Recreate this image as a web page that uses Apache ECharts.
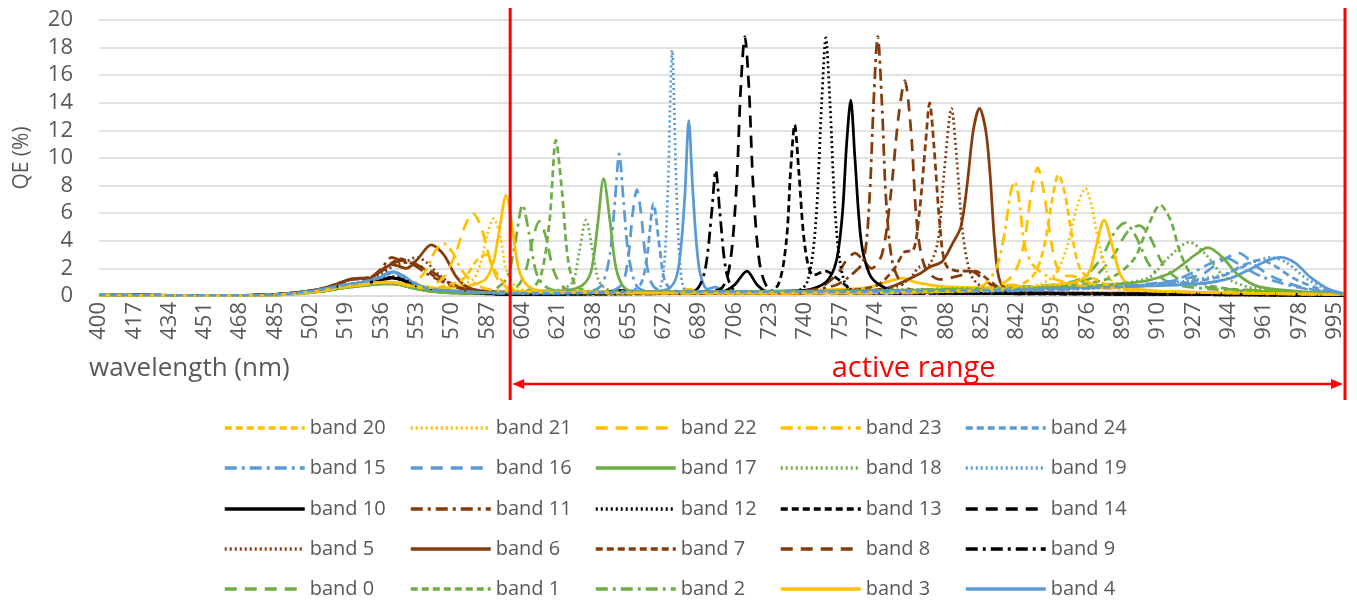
<!DOCTYPE html>
<html>
<head>
<meta charset="utf-8">
<script src="https://cdn.jsdelivr.net/npm/echarts@6/dist/echarts.min.js"></script>
</head>
<body style="margin:0;background:#fff">
<div id="main" style="width:1357px;height:601px;"></div>
<script>
// QE curves as [wavelength (nm), QE (%)]
var band0 = [[400,0.08],[420,0.05],[470,0.03],[485,0.08],[498,0.2],[508,0.35],[518,0.6],[528,0.78],[538,0.9],[544,0.85],[552,0.55],[562,0.3],[575,0.22],[590,0.25],[600,0.5],[605,1.6],[609,4.2],[612,5.4],[615,4.4],[619,1.8],[624,0.6],[632,0.3],[660,0.25],[700,0.3],[760,0.4],[820,0.5],[860,0.8],[878,1.3],[888,2.8],[895,4.6],[901,5.1],[906,4.3],[912,2.4],[920,1.2],[935,0.6],[960,0.4],[985,0.2],[1000,0.1]];
var band1 = [[400,0.07],[420,0.05],[470,0.03],[485,0.07],[498,0.18],[508,0.33],[518,0.58],[528,0.75],[538,0.88],[544,0.84],[552,0.55],[562,0.3],[575,0.2],[595,0.25],[608,0.5],[613,1.6],[617,5.5],[620,11.3],[623,7.5],[626,2.5],[630,0.7],[640,0.3],[700,0.3],[780,0.4],[850,0.6],[885,1.2],[898,2.6],[905,5],[911,6.6],[916,5.5],[921,3],[928,1.2],[940,0.6],[970,0.3],[1000,0.1]];
var band2 = [[400,0.08],[420,0.05],[470,0.03],[485,0.08],[498,0.2],[508,0.36],[518,0.6],[528,0.8],[538,0.92],[544,0.86],[552,0.56],[562,0.32],[575,0.25],[588,0.35],[596,1.2],[600,3.5],[604,6.6],[607,4.6],[611,1.5],[617,0.5],[630,0.3],[700,0.3],[780,0.4],[850,0.7],[872,1.2],[882,2.6],[889,4.6],[894,5.3],[899,4.4],[906,2.2],[915,1],[935,0.5],[970,0.3],[1000,0.1]];
var band3 = [[400,0.08],[420,0.05],[470,0.03],[485,0.08],[498,0.22],[508,0.4],[518,0.65],[528,0.85],[538,1.0],[544,0.95],[552,0.65],[562,0.55],[572,0.65],[580,0.8],[586,1.2],[590,2.5],[593,5],[596,7.3],[599,5],[602,2],[606,0.8],[612,0.4],[650,0.3],[679,0.3],[684,0.5],[690,0.3],[740,0.4],[770,0.6],[781,1.1],[787,1.3],[793,1],[805,0.7],[830,0.6],[840,0.8],[846,0.6],[860,0.8],[872,1.1],[877,1.8],[880,3.5],[884,5.5],[888,3.6],[892,1.5],[898,0.6],[920,0.3],[1000,0.1]];
var band4 = [[400,0.1],[420,0.06],[470,0.04],[485,0.1],[498,0.28],[508,0.5],[518,0.8],[528,1.05],[536,1.4],[541,1.75],[546,1.5],[552,0.9],[560,0.5],[572,0.35],[585,0.25],[598,0.15],[640,0.2],[665,0.3],[675,0.6],[679,2],[682,7],[684,12.7],[686,7.5],[689,2],[693,0.5],[697,0.65],[702,0.3],[750,0.3],[800,0.3],[860,0.6],[900,0.7],[930,0.9],[945,1.3],[955,2],[963,2.6],[969,2.8],[976,2.4],[983,1.4],[992,0.5],[1000,0.15]];
var band5 = [[400,0.1],[420,0.06],[470,0.05],[485,0.12],[498,0.3],[508,0.55],[516,0.9],[522,1.2],[530,1.25],[536,1.6],[542,2.2],[548,2.5],[553,2.8],[558,2.4],[564,1.5],[572,0.7],[585,0.35],[620,0.2],[700,0.2],[760,0.3],[780,0.5],[790,1.2],[795,2.1],[800,2.3],[804,4],[807,9],[810.5,13.6],[813,10],[816,4.5],[820,1.5],[826,0.6],[840,0.3],[900,0.2],[1000,0.05]];
var band6 = [[400,0.1],[420,0.06],[470,0.05],[485,0.12],[498,0.3],[508,0.55],[516,0.95],[522,1.25],[530,1.3],[536,1.8],[541,2.3],[548,2.0],[553,2.6],[560,3.7],[566,3.0],[572,1.4],[578,0.6],[590,0.3],[650,0.2],[720,0.2],[760,0.3],[780,0.6],[795,1.6],[800,2.1],[806,2.5],[811,3.8],[815,5],[818,8],[821,12],[824,13.6],[827,12],[829,9],[831.5,3.5],[834,1],[840,0.3],[900,0.2],[1000,0.05]];
var band7 = [[400,0.1],[420,0.06],[470,0.05],[485,0.12],[498,0.3],[508,0.55],[516,0.95],[522,1.2],[530,1.3],[536,1.9],[541,2.4],[545,2.7],[550,2.4],[556,2],[564,1.2],[574,0.6],[590,0.3],[650,0.2],[740,0.3],[760,0.4],[775,0.8],[783,2],[788,3.2],[792,3.3],[795,6],[798,11],[800,14],[802,11],[805,5],[808,2.2],[815,1.8],[822,1.8],[828,1.2],[835,0.5],[860,0.2],[1000,0.05]];
var band8 = [[400,0.1],[420,0.06],[470,0.05],[485,0.12],[498,0.3],[508,0.55],[516,0.95],[522,1.25],[530,1.35],[536,1.8],[542,2.4],[548,2.6],[554,2.2],[560,1.8],[568,1],[578,0.5],[590,0.3],[650,0.2],[720,0.3],[745,0.5],[755,1.5],[760,2.6],[764,3.1],[768,2.6],[772,2],[777,3],[781,7],[785,13],[788,15.6],[791,12],[794,5],[798,2],[805,1.2],[815,1.5],[820,1.8],[826,1.2],[835,0.4],[860,0.2],[1000,0.05]];
var band9 = [[400,0.1],[420,0.06],[470,0.04],[485,0.1],[498,0.26],[508,0.45],[518,0.75],[528,0.95],[536,1.2],[541,1.35],[546,1.2],[552,0.8],[560,0.45],[572,0.3],[585,0.2],[598,0.12],[650,0.15],[680,0.2],[688,0.5],[692,2],[695,6],[697,9.1],[699,6],[702,1.8],[706,0.4],[715,0.2],[800,0.2],[900,0.15],[1000,0.05]];
var band10 = [[400,0.1],[420,0.06],[470,0.04],[485,0.1],[498,0.25],[508,0.45],[518,0.72],[528,0.92],[536,1.15],[541,1.3],[546,1.15],[552,0.75],[560,0.4],[572,0.25],[585,0.18],[598,0.1],[640,0.2],[652,0.4],[660,0.2],[690,0.2],[700,0.3],[706,0.8],[712,1.8],[717,0.8],[722,0.3],[740,0.4],[750,1],[755,2.5],[758,6],[760,11],[762,14.2],[764,10],[767,4],[771,1.6],[776,0.8],[785,0.3],[850,0.2],[1000,0.05]];
var band11 = [[400,0.1],[420,0.06],[470,0.05],[485,0.12],[498,0.3],[508,0.55],[516,0.95],[522,1.25],[530,1.3],[536,2],[541,2.8],[546,2.5],[552,2.2],[558,1.6],[566,1],[575,0.5],[590,0.3],[650,0.2],[700,0.3],[740,0.4],[755,0.8],[762,1.5],[768,2.5],[771,7],[773,14],[775,18.8],[777,14],[779,7],[782,2.5],[787,0.8],[795,0.3],[850,0.2],[1000,0.05]];
var band12 = [[400,0.1],[420,0.06],[470,0.04],[485,0.1],[498,0.27],[508,0.47],[518,0.76],[528,0.98],[536,1.25],[541,1.4],[546,1.25],[552,0.82],[560,0.45],[572,0.3],[585,0.2],[598,0.12],[700,0.2],[735,0.3],[741,1],[745,5],[748,14],[750,18.7],[752,14],[755,5],[759,1],[765,0.3],[800,0.2],[1000,0.05]];
var band13 = [[400,0.1],[420,0.06],[470,0.04],[485,0.1],[498,0.26],[508,0.46],[518,0.74],[528,0.95],[536,1.2],[541,1.3],[546,1.18],[552,0.78],[560,0.42],[572,0.28],[585,0.2],[598,0.12],[700,0.2],[720,0.2],[727,0.8],[731,4],[733,9],[735,12.4],[737,9],[740,3.5],[744,1.5],[750,1.8],[756,1.2],[765,0.3],[800,0.2],[1000,0.05]];
var band14 = [[400,0.1],[420,0.06],[470,0.04],[485,0.1],[498,0.26],[508,0.45],[518,0.74],[528,0.94],[536,1.18],[541,1.32],[546,1.2],[552,0.8],[560,0.44],[572,0.3],[585,0.2],[598,0.12],[660,0.2],[690,0.3],[700,0.6],[704,2.5],[707,8],[709,15],[711,18.8],[713,15],[715,8],[718,2.5],[722,0.6],[730,0.2],[800,0.2],[1000,0.05]];
var band15 = [[400,0.1],[420,0.06],[470,0.04],[485,0.1],[498,0.28],[508,0.5],[518,0.78],[528,1.02],[536,1.35],[541,1.65],[546,1.45],[552,0.9],[560,0.5],[572,0.35],[585,0.25],[600,0.2],[635,0.3],[642,0.8],[646,3],[648.5,7],[650.5,10.3],[652.5,7],[655,3],[659,0.7],[666,0.3],[750,0.3],[850,0.4],[880,0.6],[915,1],[928,1.8],[937,2.5],[943,2.75],[950,2.2],[960,1.4],[975,0.7],[990,0.3],[1000,0.1]];
var band16 = [[400,0.1],[420,0.06],[470,0.04],[485,0.1],[498,0.27],[508,0.5],[518,0.8],[528,1.03],[536,1.38],[541,1.7],[546,1.48],[552,0.9],[560,0.5],[572,0.35],[585,0.25],[600,0.2],[645,0.3],[652,0.9],[655,3],[657,6],[659,7.7],[661,6],[663.5,2.5],[667,0.7],[675,0.3],[750,0.3],[850,0.5],[900,0.8],[930,1.5],[940,2.5],[949,3.1],[956,2.3],[965,1.4],[980,0.6],[1000,0.15]];
var band17 = [[400,0.08],[420,0.05],[470,0.03],[485,0.08],[498,0.2],[508,0.35],[518,0.58],[528,0.76],[538,0.88],[544,0.84],[552,0.55],[562,0.3],[575,0.2],[600,0.3],[625,0.4],[633,0.8],[637,1.8],[640,5],[643,8.5],[646,5.5],[649,2],[653,0.6],[660,0.3],[700,0.3],[780,0.4],[860,0.6],[900,1],[915,1.6],[922,2.3],[928,3],[934,3.5],[941,2.8],[948,1.6],[958,0.7],[980,0.3],[1000,0.1]];
var band18 = [[400,0.08],[420,0.05],[470,0.03],[485,0.08],[498,0.2],[508,0.35],[518,0.6],[528,0.78],[538,0.9],[544,0.85],[552,0.55],[562,0.3],[575,0.2],[600,0.3],[620,0.4],[628,1],[631,3],[634.5,5.5],[638,3],[641,1],[647,0.4],[700,0.3],[800,0.5],[880,0.8],[905,1.3],[915,2.8],[925,3.9],[933,3],[942,1.4],[955,0.6],[980,0.3],[1000,0.1]];
var band19 = [[400,0.1],[420,0.06],[470,0.04],[485,0.1],[498,0.28],[508,0.5],[518,0.8],[528,1.04],[536,1.4],[541,1.72],[546,1.5],[552,0.9],[560,0.5],[572,0.35],[585,0.25],[600,0.2],[660,0.3],[669,0.4],[672,2],[674,8],[676,17.8],[678,8],[680,2],[683,0.4],[700,0.3],[800,0.3],[900,0.7],[940,1.5],[955,2.4],[964,2.8],[972,2.4],[982,1.2],[993,0.4],[1000,0.15]];
var band20 = [[400,0.08],[420,0.05],[470,0.03],[485,0.08],[498,0.22],[508,0.4],[518,0.65],[528,0.85],[538,1.0],[544,0.95],[552,0.7],[560,0.6],[575,1.2],[582,2.6],[586,3],[590,2],[596,0.8],[605,0.3],[700,0.2],[800,0.3],[840,0.6],[850,1.5],[855,3.5],[859,7],[862,8.8],[865,7.5],[869,4],[873,1.8],[880,1.2],[890,0.6],[920,0.3],[1000,0.1]];
var band21 = [[400,0.08],[420,0.05],[470,0.03],[485,0.08],[498,0.22],[508,0.4],[518,0.65],[528,0.85],[538,1.0],[544,0.95],[552,0.7],[562,0.6],[570,0.7],[580,1.2],[584,2.5],[587,4.5],[590,5.6],[593,4.5],[596,2],[600,0.8],[608,0.3],[700,0.2],[800,0.3],[850,0.7],[860,1.5],[866,3.5],[871,6.5],[875,7.8],[878,6.5],[882,3.5],[887,1.2],[895,0.5],[920,0.3],[1000,0.1]];
var band22 = [[400,0.08],[420,0.05],[470,0.03],[485,0.08],[498,0.22],[508,0.4],[518,0.65],[528,0.85],[538,1.0],[544,0.95],[550,0.7],[555,0.6],[565,1.2],[571,2.8],[576,5],[580,6.0],[584,5],[588,2.8],[592,1.2],[598,0.5],[610,0.3],[700,0.2],[800,0.3],[830,0.6],[840,1.5],[845,3.5],[849,7.5],[852,9.3],[855,7.5],[859,3.5],[863,1.6],[870,1.4],[880,0.8],[900,0.4],[1000,0.1]];
var band23 = [[400,0.08],[420,0.05],[470,0.03],[485,0.08],[498,0.22],[508,0.4],[518,0.65],[528,0.85],[538,1.0],[544,0.95],[548,0.8],[552,0.9],[558,2],[562,3.3],[566,3.8],[570,3.2],[575,1.8],[582,0.8],[592,0.4],[700,0.2],[800,0.3],[825,0.7],[832,2],[836,4.5],[839,7.5],[841,8.3],[843,7],[846,3.5],[850,2.2],[856,1.5],[865,1],[880,0.6],[920,0.3],[1000,0.1]];
var band24 = [[400,0.1],[420,0.06],[470,0.04],[485,0.1],[498,0.28],[508,0.5],[518,0.8],[528,1.05],[536,1.42],[541,1.78],[546,1.52],[552,0.92],[560,0.5],[572,0.35],[585,0.25],[600,0.2],[655,0.3],[661,0.9],[664,3],[667,6.7],[670,3.5],[673,0.9],[680,0.3],[750,0.3],[850,0.5],[910,0.8],[940,1.4],[952,2.3],[959,2.6],[966,2.2],[975,1.3],[988,0.5],[1000,0.15]];

var bandCurves = [band0, band1, band2, band3, band4, band5, band6, band7, band8, band9,
    band10, band11, band12, band13, band14, band15, band16, band17, band18, band19,
    band20, band21, band22, band23, band24];

// legend grid, row by row as in the figure
var legendRows = [
    ['band 20', 'band 21', 'band 22', 'band 23', 'band 24'],
    ['band 15', 'band 16', 'band 17', 'band 18', 'band 19'],
    ['band 10', 'band 11', 'band 12', 'band 13', 'band 14'],
    ['band 5', 'band 6', 'band 7', 'band 8', 'band 9'],
    ['band 0', 'band 1', 'band 2', 'band 3', 'band 4']
];

var xMin = 400, xMax = 1000, xStep = 17;
var yMin = 0, yMax = 20, yStep = 2;
var activeRange = [598, 1000];

// styles
var GREEN = '#70AD47', YELLOW = '#FFC000', BLUE = '#5B9BD5', BLACK = '#000000', BROWN = '#843C0C';
var SOLID = 'solid', LONG = [12, 8], DENSE = [7, 4], DASHDOT = [12, 5, 3, 5], DOT = [2, 3];
var bandColor = [GREEN, GREEN, GREEN, YELLOW, BLUE, BROWN, BROWN, BROWN, BROWN, BLACK,
    BLACK, BROWN, BLACK, BLACK, BLACK, BLUE, BLUE, GREEN, GREEN, BLUE,
    YELLOW, YELLOW, YELLOW, YELLOW, BLUE];
var bandDash = [LONG, DENSE, DASHDOT, SOLID, SOLID, DOT, SOLID, DENSE, LONG, DASHDOT,
    SOLID, DASHDOT, DOT, DENSE, LONG, DASHDOT, LONG, SOLID, DOT, DOT,
    DENSE, DOT, LONG, DASHDOT, DENSE];

var FONT = "'Open Sans', sans-serif";
var TEXT = '#595959';

var myChart = echarts.init(document.getElementById('main'));

var series = [];
for (var i = 0; i < bandCurves.length; i++) {
    series.push({
        name: 'band ' + i,
        type: 'line',
        data: bandCurves[i],
        smooth: 0.3,
        symbol: 'none',
        color: bandColor[i],
        lineStyle: { color: bandColor[i], width: 2.75, type: bandDash[i] }
    });
}

// one legend per cell so the columns line up like the original
var legendLeft = [218, 404, 589, 774, 959];
var legendTop = [413, 453, 494, 534, 574];
var legends = [];
legendRows.forEach(function (row, r) {
    row.forEach(function (name, c) {
        legends.push({
            left: legendLeft[c],
            top: legendTop[r],
            itemWidth: 80,
            itemHeight: 14,
            itemStyle: { opacity: 0, borderWidth: 0 },
            lineStyle: { width: 3.5 },
            textStyle: { fontSize: 20, color: TEXT, fontFamily: FONT },
            data: [name]
        });
    });
});

var option = {
    animation: false,
    backgroundColor: '#fff',
    grid: { left: 99, right: 12, top: 20, bottom: 305 },
    legend: legends,
    xAxis: {
        type: 'value',
        min: xMin,
        max: xMax,
        interval: xStep,
        axisLine: { show: true, lineStyle: { color: '#d9d9d9', width: 1.5 } },
        axisTick: { show: false },
        splitLine: { show: false },
        axisLabel: {
            rotate: 90,
            margin: 6,
            showMaxLabel: false,
            color: TEXT,
            fontSize: 22,
            fontFamily: FONT
        }
    },
    yAxis: {
        type: 'value',
        min: yMin,
        max: yMax,
        interval: yStep,
        name: 'QE (%)',
        nameLocation: 'middle',
        nameRotate: 90,
        nameGap: 66,
        nameTextStyle: { color: TEXT, fontSize: 21, fontFamily: FONT },
        axisLine: { show: false },
        axisTick: { show: false },
        splitLine: { lineStyle: { color: '#d9d9d9', width: 1.5 } },
        axisLabel: { color: TEXT, fontSize: 22, fontFamily: FONT, margin: 26 }
    },
    series: series
};
myChart.setOption(option);

// red "active range" annotation
var xa = myChart.convertToPixel({ xAxisIndex: 0 }, activeRange[0]);
var xb = myChart.convertToPixel({ xAxisIndex: 0 }, activeRange[1]);
var arrowY = 384;
myChart.setOption({
    graphic: [
        { type: 'text', left: 89, top: 356, style: { text: 'wavelength (nm)', fill: TEXT, font: '26px ' + FONT } },
        { type: 'line', shape: { x1: xa, y1: 8, x2: xa, y2: 400 }, style: { stroke: '#ff0000', lineWidth: 3 }, z: 100 },
        { type: 'line', shape: { x1: xb, y1: 8, x2: xb, y2: 400 }, style: { stroke: '#ff0000', lineWidth: 3 }, z: 100 },
        { type: 'line', shape: { x1: xa + 12, y1: arrowY, x2: xb - 12, y2: arrowY }, style: { stroke: '#ff0000', lineWidth: 2.5 }, z: 100 },
        { type: 'polygon', shape: { points: [[xa + 2, arrowY], [xa + 14, arrowY - 5], [xa + 14, arrowY + 5]] }, style: { fill: '#ff0000' }, z: 100 },
        { type: 'polygon', shape: { points: [[xb - 2, arrowY], [xb - 14, arrowY - 5], [xb - 14, arrowY + 5]] }, style: { fill: '#ff0000' }, z: 100 },
        { type: 'text', x: (xa + xb) / 2 - 14, y: 369, style: { text: 'active range', fill: '#ff0000', font: '29px ' + FONT, textAlign: 'center', textVerticalAlign: 'middle' }, z: 100 }
    ]
});
</script>
</body>
</html>
